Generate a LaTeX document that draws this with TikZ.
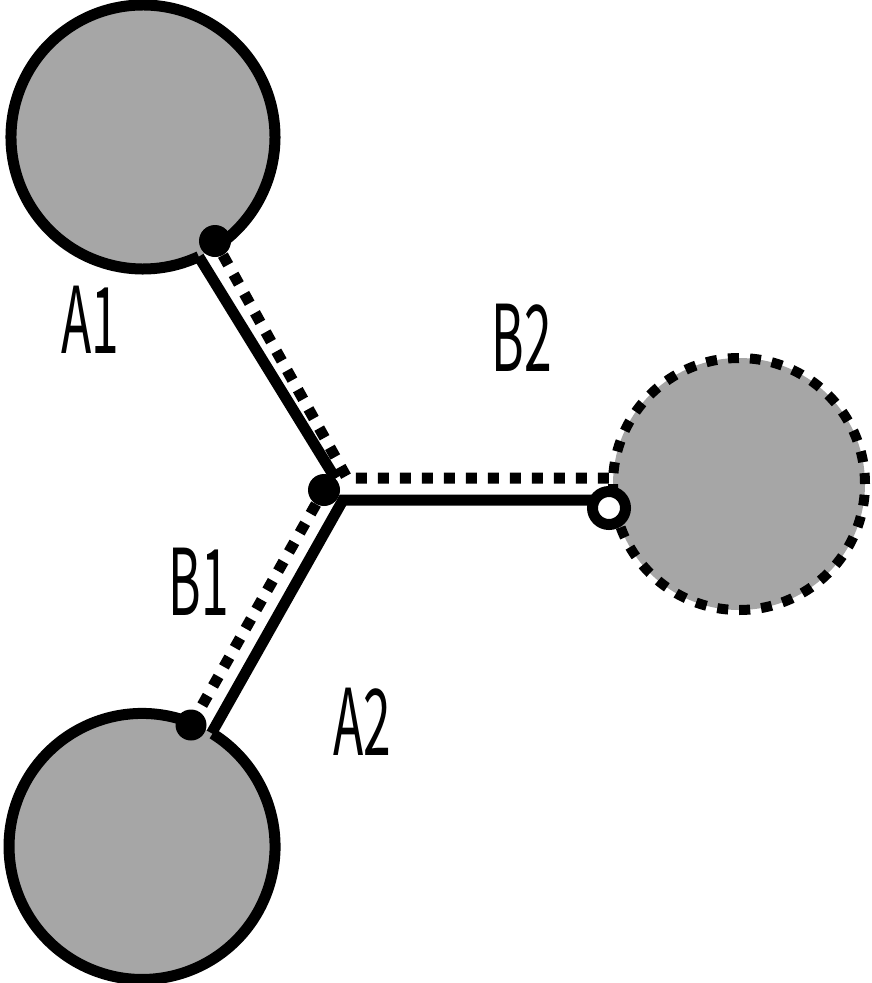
\documentclass[tikz,border=0pt]{standalone}
\usepackage{xcolor}
\usepackage{fontspec}
\usepackage{tikz}
\usetikzlibrary{positioning}
\newfontfamily\labelfont{Noto Sans CJK JP}
\definecolor{discgray}{HTML}{A6A6A6}

\begin{document}
\begin{tikzpicture}[x=1pt, y=-1pt, disc/.style={circle, fill=discgray, inner sep=0pt, outer sep=0pt}, rim/.style={line width=11pt}, dotline/.style={line width=11pt, dash pattern=on 11pt off 11pt}, joint/.style={circle, fill=black, inner sep=0pt, minimum size=32pt}, ring/.style={circle, draw, fill=white, line width=11pt, inner sep=0pt, minimum size=33pt}, tag/.style={inner sep=0pt, font=\labelfont\fontsize{92}{92}\selectfont}]
        \useasboundingbox (0,0) rectangle (871,983);
        \node (upper) [disc, minimum size=264pt] at (143,137) {};
        \node (lower) [disc, minimum size=266pt] at (141,846) {};
        \node (right) [disc, minimum size=252pt, draw, dotline, line width=10pt] at (739,484) {};
        \draw [rim] (upper.-55) arc[start angle=55, end angle=-295, radius=132];
        \draw [rim] (lower.67.5) arc[start angle=-67.5, end angle=-418, radius=133];

        \node (top) [joint] at (215,241) {};
        \node (hub) [joint] at (324,490) {};
        \node (foot) [joint, minimum size=31pt] at (191,725) {};
        \node (port) [ring] at (609,508) {};
        \coordinate (bend) at (347,478);
        \coordinate (knee) at (343,500);

        \draw [dotline] (top) -- (bend) -- (bend -| right.west);
        \draw [dotline] (hub) -- (foot);
        \draw [rim] (upper.-65) -- (hub.north east);
        \draw [rim] (lower.58) -- (knee) -- ([xshift=8pt]knee -| port.west);

        \node (tA1) [tag] at (90,320) {\scalebox{0.54}[1]{A1}};
        \node (tB2) [tag] at (522,338) {\scalebox{0.54}[1]{B2}};
        \node (tB1) [tag] at (199,582) {\scalebox{0.54}[1]{B1}};
        \node (tA2) [tag] at (362,722) {\scalebox{0.54}[1]{A2}};
    \end{tikzpicture}
\end{document}
